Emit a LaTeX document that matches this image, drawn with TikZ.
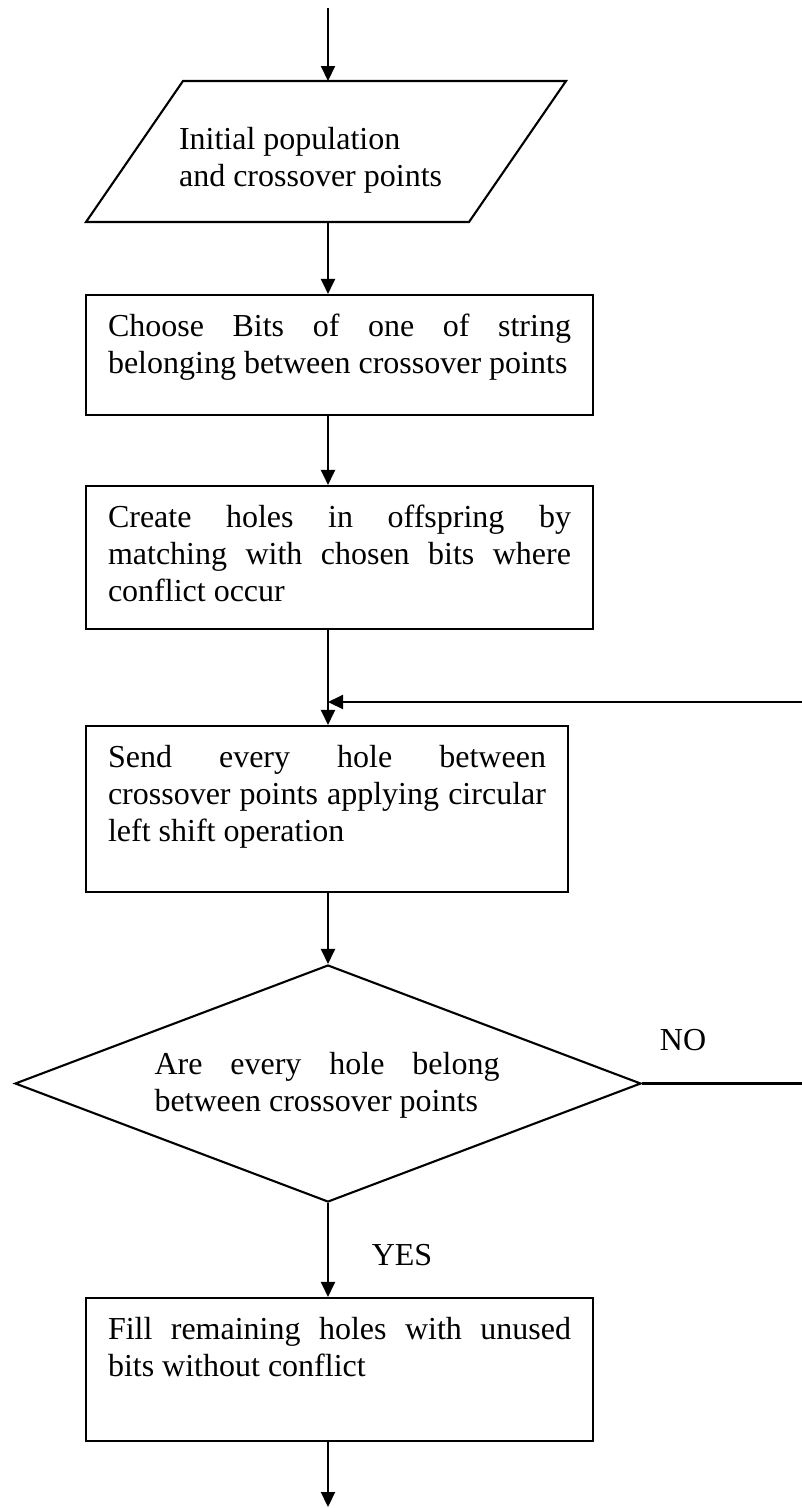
\documentclass[tikz,border=0pt]{standalone}
\usepackage{fontspec}
\setmainfont{Liberation Serif}
\usetikzlibrary{arrows.meta,shapes.geometric}
\hbadness=10000
\newcommand{\bxt}[3]{\parbox[c][#2][t]{#1}{#3}}
\begin{document}
\begin{tikzpicture}[x=1pt,y=-1pt,
  line width=2.1pt,
  every node/.style={font=\fontsize{32}{37}\selectfont},
  arr/.style={-{Triangle[length=15pt,width=14pt]}},
  procbox/.style={draw, rectangle, inner xsep=22pt, inner ysep=19pt},
  decbox/.style={draw, diamond, inner sep=0pt, minimum width=626pt, minimum height=237pt},
  lbl/.style={inner sep=0pt}
]
\useasboundingbox (0,0) rectangle (801,1508);

% named helper coordinates
\coordinate (start) at (328,8);
\coordinate (finish) at (328,1507);
\coordinate (spine) at (328,0);
\coordinate (rt) at (803,0);
\coordinate (j) at (328,702);

% input parallelogram
\coordinate (pBL) at (86,222);
\coordinate (pBR) at (469,222);
\coordinate (pTR) at (566,81);
\coordinate (pTL) at (183,81);
\coordinate (pTop) at (328,81);
\coordinate (pBot) at (328,222);
\draw (pBL) -- (pBR) -- (pTR) -- (pTL) -- cycle;
\node[lbl, anchor=north west, align=left] (inp) at (178,126) {Initial population\\and crossover points};

% process boxes
\node[procbox] (b1) at (339.5,355) {\bxt{463pt}{82pt}{Choose Bits of one of string\linebreak belonging between crossover points}};
\node[procbox] (b2) at (339.5,557.5) {\bxt{463pt}{105pt}{Create holes in offspring by\linebreak matching with chosen bits where\linebreak conflict occur}};
\node[procbox] (b3) at (327,809) {\bxt{438pt}{128pt}{Send every hole between\linebreak crossover points applying circular\linebreak left shift operation}};
\node[decbox] (dec) at (328,1083.5) {};
\node[lbl] (dect) at (327,1085) {\parbox{345pt}{Are every hole belong\linebreak between crossover points}};
\node[procbox] (b4) at (339.5,1369.5) {\bxt{463pt}{105pt}{Fill remaining holes with unused\linebreak bits without conflict}};

% labels
\node[lbl] (no) at (683,1040) {NO};
\node[lbl] (yes) at (402,1255) {YES};

% connectors
\draw[arr] (start) -- (pTop);
\draw[arr] (pBot) -- (b1.north -| spine);
\draw[arr] (b1.south -| spine) -- (b2.north -| spine);
\draw[arr] (b2.south -| spine) -- (b3.north -| spine);
\draw[arr] (b3.south -| spine) -- (dec.north);
\draw[arr] (dec.south) -- (b4.north -| spine);
\draw[arr] (b4.south -| spine) -- (finish);
\draw[arr] (dec.east) -- (dec.east -| rt) -- (j -| rt) -- (j);
\end{tikzpicture}
\end{document}
